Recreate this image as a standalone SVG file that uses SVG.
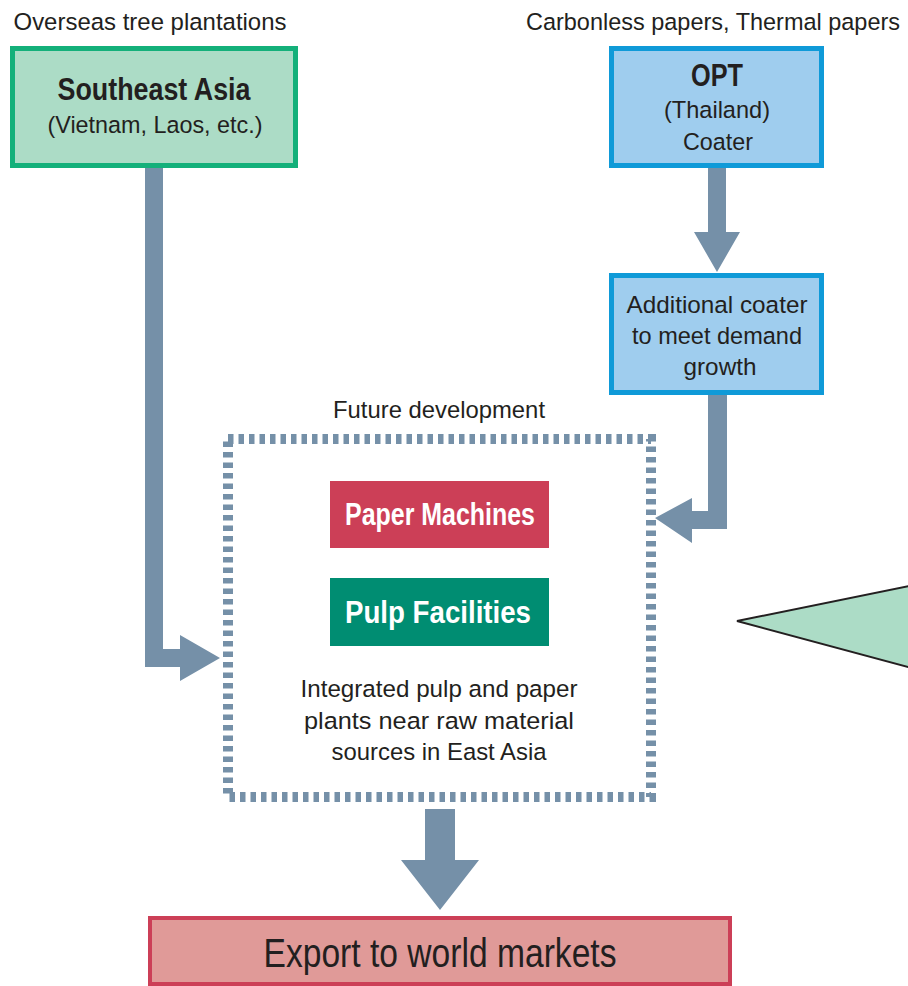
<svg xmlns="http://www.w3.org/2000/svg" width="908" height="986" viewBox="0 0 908 986">
<style>
text{font-family:"Liberation Sans Narrow","Liberation Sans",Arial,sans-serif;fill:#231f20;text-anchor:middle}
.lbl{font-size:24.5px}
.b{font-weight:bold}
.w{fill:#ffffff}
.arrow{fill:#7590a8}
.green{fill:#acdcc6;stroke:#14b07a;stroke-width:5}
.blue{fill:#9fcdee;stroke:#0f9ad8;stroke-width:5}
</style>
<rect width="908" height="986" fill="#ffffff"/>
<g id="connectors">
<path class="arrow" d="M145,168 H163 V649 H180 V635 L220,658 L180,681 V667 H145 Z"/>
<path class="arrow" d="M708,168 H726 V232 H740 L717,272 L694,232 H708 Z"/>
<path class="arrow" d="M708,395 H727 V529 H692 V543 L655,518 L692,498 V511 H708 Z"/>
<path class="arrow" d="M425,809 H455 V860 H479 L440,910 L401,860 H425 Z"/>
</g>
<g id="future-development">
<rect x="228" y="439" width="423" height="358" fill="none" stroke="#7590a8" stroke-width="10" stroke-dasharray="5.5 5"/>
<text class="lbl" x="439" y="418" textLength="212" lengthAdjust="spacingAndGlyphs">Future development</text>
<text class="lbl" x="439" y="697" textLength="277" lengthAdjust="spacingAndGlyphs">Integrated pulp and paper</text>
<text class="lbl" x="439" y="729" textLength="270" lengthAdjust="spacingAndGlyphs">plants near raw material</text>
<text class="lbl" x="439" y="760" textLength="215" lengthAdjust="spacingAndGlyphs">sources in East Asia</text>
</g>
<g id="southeast-asia">
<text class="lbl" x="150" y="30" textLength="273" lengthAdjust="spacingAndGlyphs">Overseas tree plantations</text>
<rect class="green" x="12.5" y="48.5" width="283" height="117"/>
<text class="b" x="154" y="100" font-size="31" textLength="193" lengthAdjust="spacingAndGlyphs">Southeast Asia</text>
<text class="lbl" x="155" y="133" textLength="215" lengthAdjust="spacingAndGlyphs">(Vietnam, Laos, etc.)</text>
</g>
<g id="opt">
<text class="lbl" x="713" y="30" textLength="374" lengthAdjust="spacingAndGlyphs">Carbonless papers, Thermal papers</text>
<rect class="blue" x="611.5" y="48.5" width="210" height="117"/>
<text class="b" x="717" y="86" font-size="31" textLength="52" lengthAdjust="spacingAndGlyphs">OPT</text>
<text class="lbl" x="717" y="118" textLength="106" lengthAdjust="spacingAndGlyphs">(Thailand)</text>
<text class="lbl" x="718" y="150" textLength="70" lengthAdjust="spacingAndGlyphs">Coater</text>
</g>
<g id="additional-coater">
<rect class="blue" x="611.5" y="275.5" width="210" height="117"/>
<text class="lbl" x="717" y="313" textLength="181" lengthAdjust="spacingAndGlyphs">Additional coater</text>
<text class="lbl" x="717" y="344" textLength="170" lengthAdjust="spacingAndGlyphs">to meet demand</text>
<text class="lbl" x="720" y="375" textLength="73" lengthAdjust="spacingAndGlyphs">growth</text>
</g>
<g id="paper-machines">
<rect x="330" y="481" width="219" height="67" fill="#cc3f57"/>
<text class="b w" x="440" y="525" font-size="31" textLength="190" lengthAdjust="spacingAndGlyphs">Paper Machines</text>
</g>
<g id="pulp-facilities">
<rect x="330" y="578" width="219" height="68" fill="#008d72"/>
<text class="b w" x="438" y="623" font-size="31" textLength="186" lengthAdjust="spacingAndGlyphs">Pulp Facilities</text>
</g>
<g id="export">
<rect x="150" y="918" width="580" height="66" fill="#e09a98" stroke="#cc3f57" stroke-width="4"/>
<text x="440" y="967" font-size="40" textLength="353" lengthAdjust="spacingAndGlyphs">Export to world markets</text>
</g>
<g id="callout">
<polygon points="737,621 912,585.5 912,668" fill="#acdcc6" stroke="#231f20" stroke-width="2"/>
</g>
</svg>
